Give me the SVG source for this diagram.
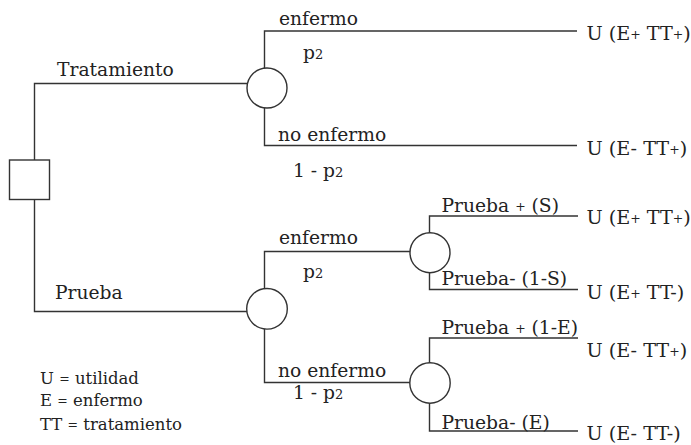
<svg xmlns="http://www.w3.org/2000/svg" width="691" height="445" viewBox="0 0 691 445">
  <style>
    .ln { fill: none; stroke: #333; stroke-width: 1.4; }
    .nd { fill: #fff; stroke: #333; stroke-width: 1.4; }
    text { font-family: "DejaVu Serif", "Liberation Serif", serif; fill: #222; }
    .lb { font-size: 18.7px; }
    .ut { font-size: 19.2px; }
    .lg { font-size: 16.5px; }
    .sm { font-size: 13px; }
    .pl { font-size: 12.5px; baseline-shift: 1.5px; }
  </style>
  <rect width="691" height="445" fill="#fff"/>

  <!-- branches -->
  <g id="connectors">
    <!-- decision node to chance nodes -->
    <path class="ln" d="M34.5,160 V83.5 H247"/>
    <path class="ln" d="M34.5,199.5 V311.5 H247"/>
    <!-- Tratamiento outcomes -->
    <path class="ln" d="M264.5,68.5 V31 H577"/>
    <path class="ln" d="M264.5,107.5 V145.5 H577"/>
    <!-- Prueba: enfermo / no enfermo -->
    <path class="ln" d="M264.5,288.5 V251.5 H410"/>
    <path class="ln" d="M264.5,329 V382.5 H410"/>
    <!-- test results -->
    <path class="ln" d="M429.5,233 V216 H578"/>
    <path class="ln" d="M429.5,272.5 V289.5 H578"/>
    <path class="ln" d="M429.5,363 V338 H578"/>
    <path class="ln" d="M429.5,403 V431 H578"/>
  </g>

  <!-- nodes -->
  <g id="decision">
    <rect class="nd" x="9.5" y="160" width="40" height="39.5"/>
  </g>
  <g id="chance-tratamiento">
    <circle class="nd" cx="267" cy="88" r="20"/>
  </g>
  <g id="chance-prueba">
    <circle class="nd" cx="267" cy="308.8" r="20.3"/>
  </g>
  <g id="chance-enfermo">
    <circle class="nd" cx="430" cy="252.7" r="20"/>
  </g>
  <g id="chance-no-enfermo">
    <circle class="nd" cx="430" cy="383" r="20.2"/>
  </g>

  <!-- branch labels -->
  <g id="labels">
    <text class="lb" x="57" y="76">Tratamiento</text>
    <text class="lb" x="55" y="298.5">Prueba</text>

    <text class="lb" x="279" y="25">enfermo</text>
    <text class="lb" x="303" y="59">p<tspan class="sm">2</tspan></text>
    <text class="lb" x="278" y="141">no enfermo</text>
    <text class="lb" x="293" y="176.5">1 - p<tspan class="sm">2</tspan></text>

    <text class="lb" x="279" y="243.5">enfermo</text>
    <text class="lb" x="303" y="278">p<tspan class="sm">2</tspan></text>
    <text class="lb" x="278" y="376.5">no enfermo</text>
    <text class="lb" x="293" y="398.5">1 - p<tspan class="sm">2</tspan></text>

    <text class="lb" x="441.5" y="211.5">Prueba <tspan class="pl">+</tspan> (S)</text>
    <text class="lb" x="441.5" y="284.5">Prueba- (1-S)</text>
    <text class="lb" x="441.5" y="334">Prueba <tspan class="pl">+</tspan> (1-E)</text>
    <text class="lb" x="441.5" y="428.5">Prueba- (E)</text>
  </g>

  <!-- utilities -->
  <g id="utilities">
    <text class="ut" x="586.5" y="40">U (E<tspan class="pl">+</tspan> TT<tspan class="pl">+</tspan>)</text>
    <text class="ut" x="586.5" y="155">U (E- TT<tspan class="pl">+</tspan>)</text>
    <text class="ut" x="586.5" y="224">U (E<tspan class="pl">+</tspan> TT<tspan class="pl">+</tspan>)</text>
    <text class="ut" x="586.5" y="298.5">U (E<tspan class="pl">+</tspan> TT-)</text>
    <text class="ut" x="586.5" y="356.5">U (E- TT<tspan class="pl">+</tspan>)</text>
    <text class="ut" x="586.5" y="440">U (E- TT-)</text>
  </g>

  <!-- legend -->
  <g id="legend">
    <text class="lg" x="40" y="383.5">U <tspan class="pl">=</tspan> utilidad</text>
    <text class="lg" x="40" y="406">E <tspan class="pl">=</tspan> enfermo</text>
    <text class="lg" x="40" y="430">TT <tspan class="pl">=</tspan> tratamiento</text>
  </g>
</svg>
